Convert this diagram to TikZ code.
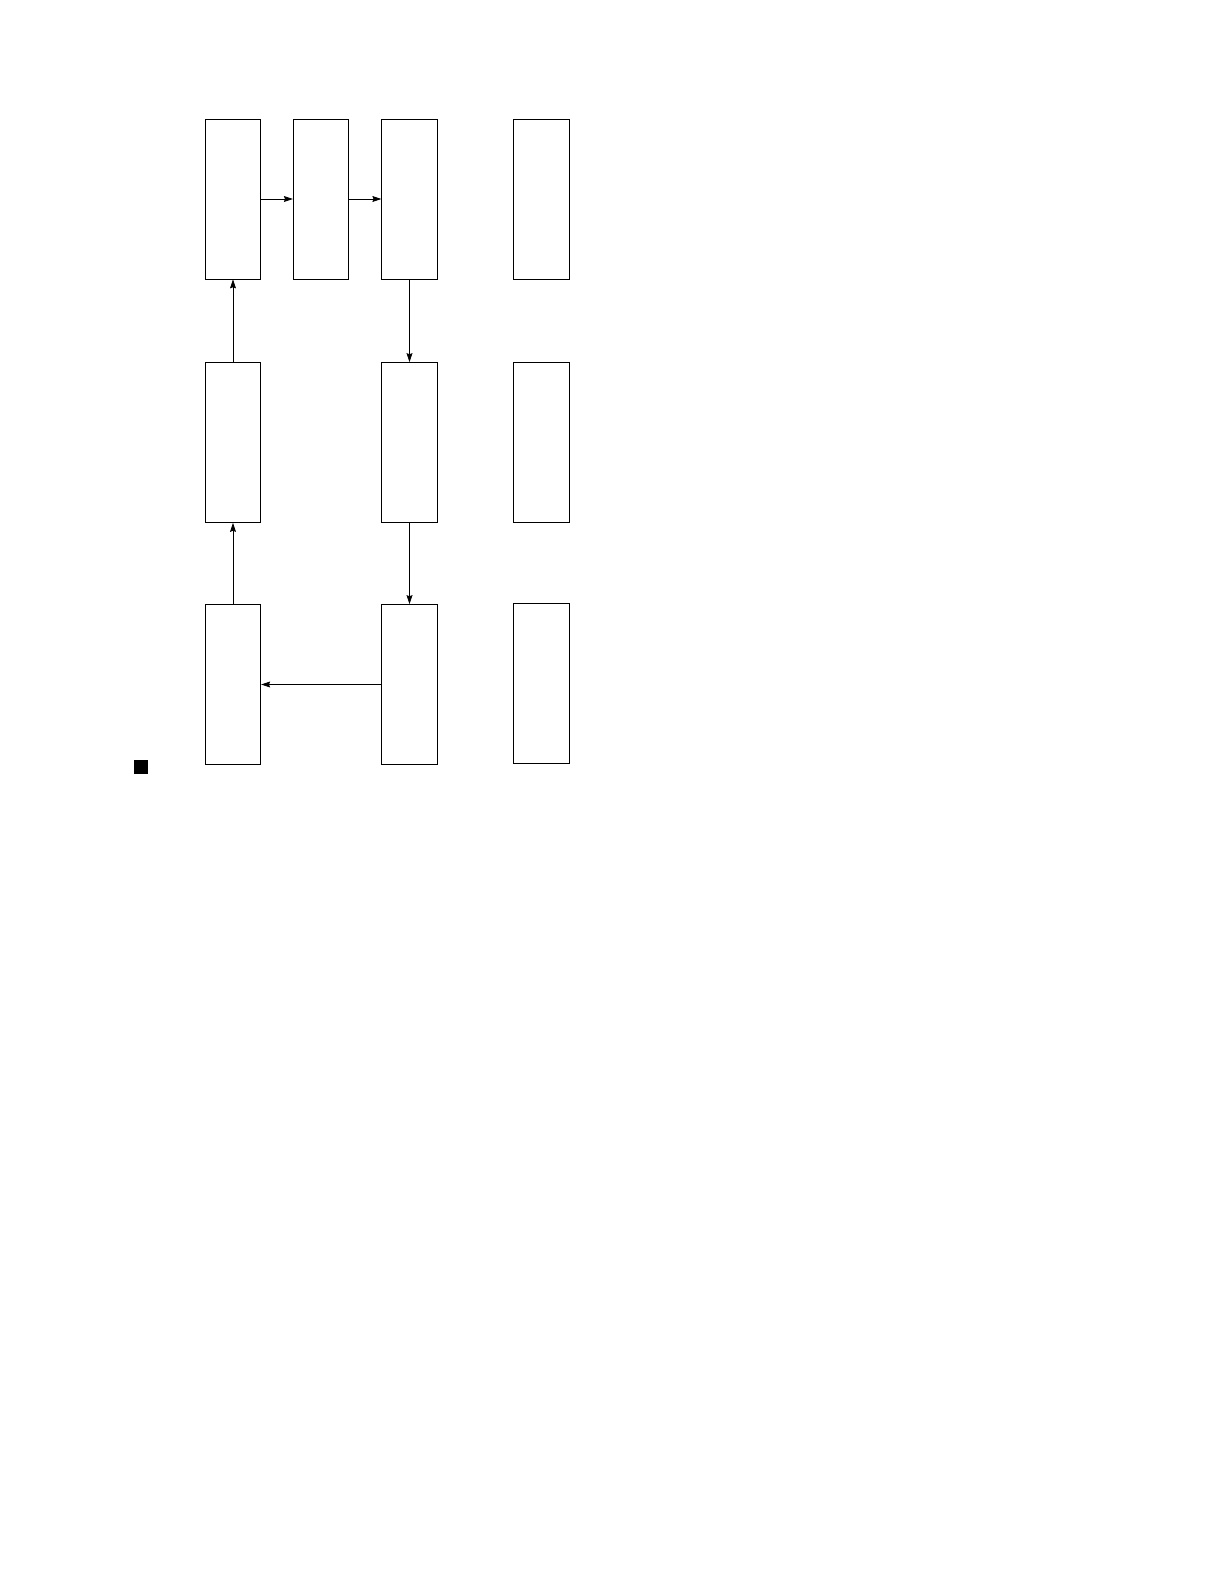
\documentclass[tikz,border=0pt]{standalone}
\usepackage{tikz}
\usetikzlibrary{shapes.geometric, arrows, arrows.meta}
\tikzstyle{arrow} = [->,>={Stealth[length=4.5pt,width=3pt,inset=0.6pt]}]
\tikzstyle{stage} = [draw, rectangle, inner sep=0pt, minimum width=27.75pt, minimum height=80pt]

\begin{document}
\begin{tikzpicture}[x=0.5pt,y=-0.5pt]
\useasboundingbox (0,0) rectangle (1224,1584);

\node[stage] (topleft) at (233,199) {};
\node[stage] (topmid) at (321,199) {};
\node[stage] (topright) at (409.5,199) {};
\node[stage] (topside) at (541.3,199) {};

\node[stage] (midleft) at (233,442.5) {};
\node[stage] (midright) at (409.5,442.5) {};
\node[stage] (midside) at (541.3,442.5) {};

\node[stage] (lowleft) at (233,684.5) {};
\node[stage] (lowright) at (409.5,684.5) {};
\node[stage] (lowside) at (541.3,683.5) {};

\node[fill=black, inner sep=0pt, minimum size=7pt] (marker) at (141,767) {};

\draw[arrow] (topleft.east) -- (topmid.west);
\draw[arrow] (topmid.east) -- (topright.west);
\draw[arrow] (topright.south) -- (midright.north);
\draw[arrow] (midright.south) -- (lowright.north);
\draw[arrow] (lowright.west) -- (lowleft.east);
\draw[arrow] (lowleft.north) -- (midleft.south);
\draw[arrow] (midleft.north) -- (topleft.south);
\end{tikzpicture}
\end{document}
